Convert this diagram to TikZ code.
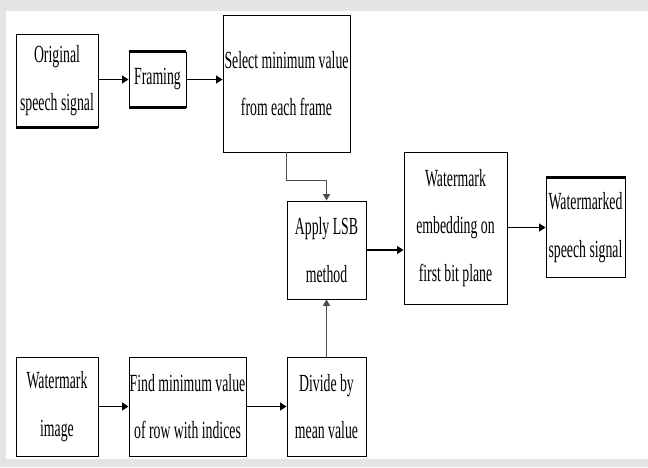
\documentclass[tikz,border=0pt]{standalone}
\usepackage{fontspec}
\setmainfont{Liberation Serif}[FakeStretch=0.56]
\usetikzlibrary{arrows.meta}
\definecolor{framegray}{HTML}{E4E4E4}

\begin{document}
\begin{tikzpicture}[
    x=0.025cm, y=-0.025cm,
    box/.style={draw, line width=0.7pt, rectangle, align=center, inner sep=0pt,
        font=\fontsize{17.5}{34}\selectfont},
    arrow/.style={-{Triangle[length=4.5pt,width=5.5pt]}, line width=1pt},
    thin arrow/.style={-{Triangle[length=4.5pt,width=5pt]}, line width=0.6pt, black!70},
    rim/.style={line width=2pt}
]
    % Hintergrund mit grauem Rand
    \fill[framegray] (0,0) rectangle (648,467);
    \fill[white] (6,11) rectangle (648,459);
    \useasboundingbox (0,0) rectangle (648,467);

    % obere Reihe
    \node[box, minimum width=82*0.025cm, minimum height=93*0.025cm] (orig) at (57,80.5)
        {Original\\speech signal};
    \node[box, minimum width=57*0.025cm, minimum height=55*0.025cm] (framing) at (157.5,79.5)
        {Framing};
    \node[box, minimum width=127*0.025cm, minimum height=137*0.025cm] (select) at (286.5,83.5)
        {Select minimum value\\from each frame};

    % mittlere Reihe
    \node[box, minimum width=79*0.025cm, minimum height=98*0.025cm] (lsb) at (326.5,250)
        {Apply LSB\\method};
    \node[box, minimum width=103*0.025cm, minimum height=152*0.025cm] (embed) at (455.5,228)
        {Watermark\\embedding on\\first bit plane};
    \node[box, minimum width=79*0.025cm, minimum height=99*0.025cm] (marked) at (585.5,227.5)
        {Watermarked\\speech signal};

    % untere Reihe
    \node[box, minimum width=82*0.025cm, minimum height=99*0.025cm] (wmimg) at (57,406.5)
        {Watermark\\image};
    \node[box, minimum width=117*0.025cm, minimum height=99*0.025cm] (findmin) at (187.5,406.5)
        {Find minimum value\\of row with indices};
    \node[box, minimum width=79*0.025cm, minimum height=99*0.025cm] (divide) at (326.5,406.5)
        {Divide by\\mean value};

    % dicke Kanten
    \draw[rim] (orig.south west) -- (orig.south east);
    \draw[rim] (framing.north west) -- (framing.north east);
    \draw[rim] (framing.south west) -- (framing.south east);
    \draw[rim] (marked.north west) -- (marked.north east);

    % Pfeile
    \draw[arrow] (orig.east |- framing.east) -- (framing.west);
    \draw[arrow] (framing.east) -- (select.west |- framing.east);
    \draw[thin arrow] (select.south) -- ++(0,28) -| (lsb.north);
    \draw[thin arrow] (divide.north) -- (lsb.south);
    \draw[arrow] (lsb.east) -- (embed.west |- lsb.east);
    \draw[arrow] (embed.east |- marked.west) -- (marked.west);
    \draw[arrow] (wmimg.east) -- (findmin.west);
    \draw[arrow] (findmin.east) -- (divide.west);

\end{tikzpicture}
\end{document}
